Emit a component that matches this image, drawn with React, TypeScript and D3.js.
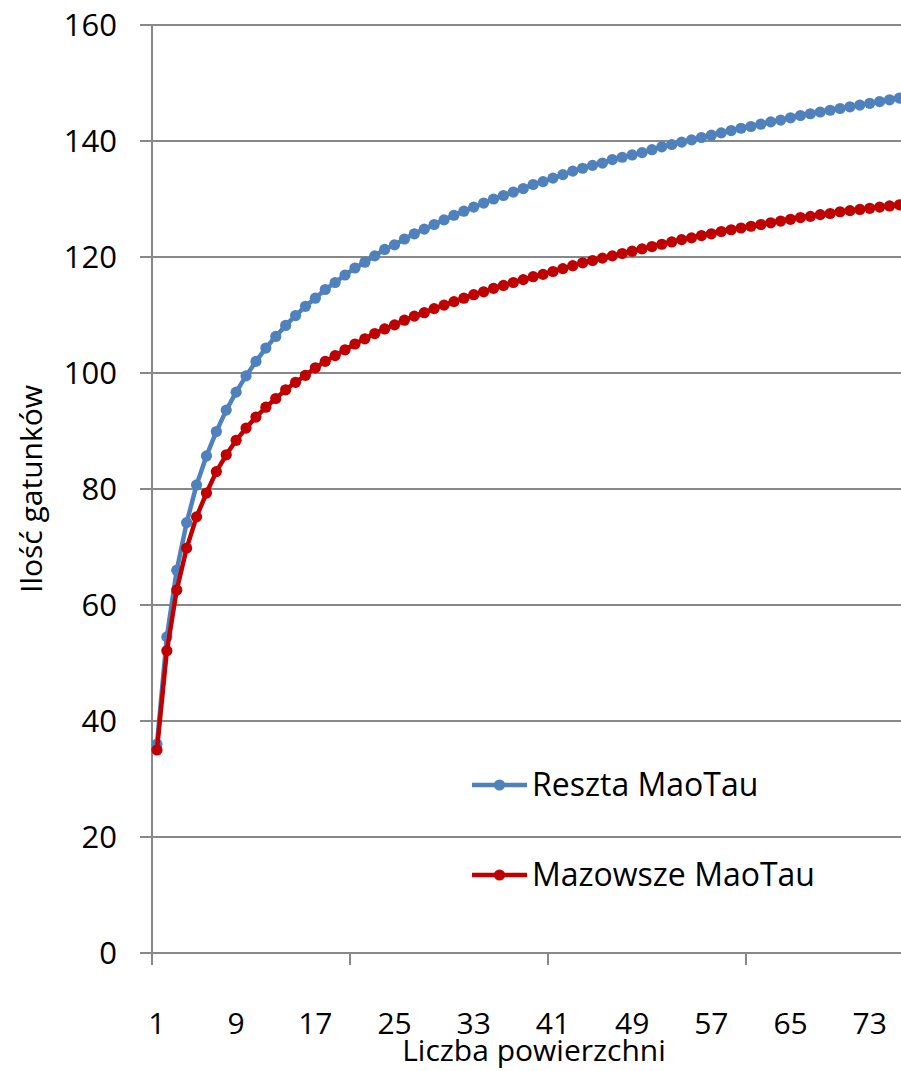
import React from "react";
import * as d3 from "d3";

// x categories: number of plots 1..76
const categories = d3.range(1, 77).map(String);

const reszta = [
  36.0, 54.5, 66.0, 74.2, 80.7, 85.7, 89.9, 93.6, 96.7, 99.5,
  102.0, 104.3, 106.3, 108.2, 109.9, 111.5, 112.9, 114.4, 115.6, 116.9,
  118.1, 119.1, 120.2, 121.3, 122.1, 123.1, 124.0, 124.8, 125.6, 126.4,
  127.2, 127.9, 128.6, 129.3, 130.0, 130.6, 131.2, 131.8, 132.5, 133.0,
  133.6, 134.2, 134.8, 135.3, 135.8, 136.2, 136.8, 137.2, 137.6, 138.0,
  138.5, 139.0, 139.4, 139.8, 140.2, 140.6, 141.0, 141.4, 141.8, 142.2,
  142.5, 142.9, 143.3, 143.6, 144.0, 144.4, 144.7, 145.0, 145.3, 145.6,
  145.9, 146.2, 146.5, 146.8, 147.1, 147.4,
];

const mazowsze = [
  35.0, 52.1, 62.6, 69.8, 75.2, 79.3, 83.0, 85.9, 88.4, 90.5,
  92.4, 94.1, 95.6, 97.1, 98.4, 99.6, 100.9, 102.0, 103.0, 104.0,
  105.0, 105.9, 106.8, 107.6, 108.3, 109.1, 109.8, 110.4, 111.1, 111.7,
  112.3, 112.9, 113.5, 114.0, 114.6, 115.1, 115.6, 116.1, 116.6, 117.0,
  117.5, 118.0, 118.5, 119.0, 119.4, 119.8, 120.2, 120.6, 121.0, 121.4,
  121.8, 122.2, 122.6, 123.0, 123.3, 123.7, 124.0, 124.4, 124.7, 125.0,
  125.3, 125.6, 125.9, 126.2, 126.5, 126.8, 127.0, 127.3, 127.5, 127.8,
  128.0, 128.2, 128.4, 128.6, 128.8, 129.0,
];

const yTicks = [0, 20, 40, 60, 80, 100, 120, 140, 160];
const xLabels = ["1", "9", "17", "25", "33", "41", "49", "57", "65", "73"];
const xTickEvery = 20;

const seriesNames = ["Reszta MaoTau", "Mazowsze MaoTau"];
const seriesColors = ["#4F81BD", "#C00000"];

const FONT = "'Open Sans', 'DejaVu Sans', sans-serif";
const GRID = "#888888";

export default function App() {
  const width = 901;
  const height = 1071;
  const left = 152;
  const top = 25;
  const bottom = 953;
  const band = 9.9;

  const x = d3
    .scaleBand<string>()
    .domain(categories)
    .range([left, left + categories.length * band])
    .paddingInner(0)
    .paddingOuter(0);
  const y = d3.scaleLinear().domain([0, 160]).range([bottom, top]);

  const cx = (c: string) => (x(c) ?? 0) + x.bandwidth() / 2;

  const line = d3
    .line<number>()
    .x((_, i) => cx(categories[i]))
    .y((d) => y(d));

  const series = [reszta, mazowsze];

  // category boundaries for tick marks
  const boundaries = d3
    .range(0, categories.length + 1, xTickEvery)
    .map((i) => left + i * x.step());

  return (
    <svg
      width={width}
      height={height}
      style={{ position: "absolute", left: 0, top: 0, background: "#fff" }}
      fontFamily={FONT}
    >
      <rect width={width} height={height} fill="#fff" />

      {/* horizontal gridlines + y ticks */}
      {yTicks.map((t) => (
        <g key={t}>
          <line x1={140} x2={width} y1={y(t)} y2={y(t)} stroke={GRID} strokeWidth={2} />
          <text x={117} y={y(t) + 11} textAnchor="end" fontSize={31} fill="#000">
            {t}
          </text>
        </g>
      ))}

      {/* y axis line */}
      <line x1={left} x2={left} y1={top} y2={bottom + 12} stroke={GRID} strokeWidth={2} />

      {/* x tick marks */}
      {boundaries.map((bx, i) => (
        <line key={i} x1={bx} x2={bx} y1={bottom} y2={bottom + 12} stroke={GRID} strokeWidth={2} />
      ))}

      {/* x labels */}
      {xLabels.map((l) => (
        <text key={l} x={cx(l)} y={1034} textAnchor="middle" fontSize={30} fill="#000">
          {l}
        </text>
      ))}

      {/* axis titles */}
      <text x={534} y={1061} textAnchor="middle" fontSize={30} fill="#000">
        Liczba powierzchni
      </text>
      <text
        transform="translate(42,489) rotate(-90)"
        textAnchor="middle"
        fontSize={30}
        fill="#000"
      >
        Ilość gatunków
      </text>

      {/* series */}
      {series.map((s, si) => (
        <g key={si}>
          <path
            d={line(s) ?? ""}
            fill="none"
            stroke={seriesColors[si]}
            strokeWidth={4.5}
            strokeLinejoin="round"
          />
          {s.map((v, i) => (
            <circle key={i} cx={cx(categories[i])} cy={y(v)} r={5.6} fill={seriesColors[si]} />
          ))}
        </g>
      ))}

      {/* legend */}
      {seriesNames.map((n, i) => {
        const ly = i === 0 ? 785 : 875;
        return (
          <g key={n}>
            <line x1={472} x2={527} y1={ly} y2={ly} stroke={seriesColors[i]} strokeWidth={4.5} />
            <circle cx={499.5} cy={ly} r={5.6} fill={seriesColors[i]} />
            <text x={532} y={ly + 11} fontSize={32} fill="#000">
              {n}
            </text>
          </g>
        );
      })}
    </svg>
  );
}
